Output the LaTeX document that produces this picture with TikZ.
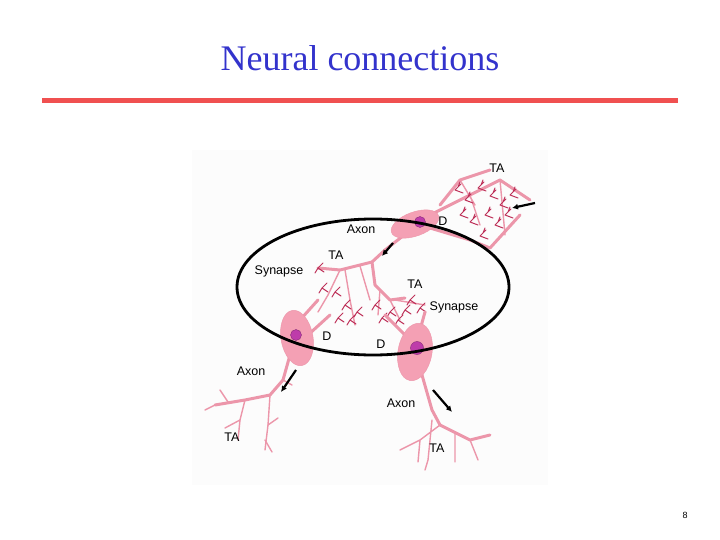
\documentclass[tikz,border=0pt]{standalone}
\usepackage{fontspec}
\setmainfont{Liberation Serif}
\setsansfont{Liberation Sans}
\usetikzlibrary{shapes.geometric,arrows.meta}
\definecolor{ttl}{RGB}{51,51,204}
\definecolor{rline}{RGB}{240,80,80}
\definecolor{cellp}{RGB}{244,160,180}
\definecolor{fibre}{RGB}{236,150,170}
\definecolor{term}{RGB}{190,50,90}
\definecolor{nucl}{RGB}{190,60,170}
\tikzset{
  lbl/.style={font=\sffamily\fontsize{12.5}{14}\selectfont, inner sep=0pt},
  fib/.style={draw=fibre, line width=3pt, line cap=round, line join=round},
  thin fib/.style={draw=fibre, line width=1.4pt, line cap=round},
  twig/.style={draw=term, line width=1pt, line cap=round},
  body/.style={ellipse, fill=cellp, draw=fibre, inner sep=0pt},
  nuc/.style={circle, fill=nucl, draw=nucl!70!black, minimum size=11pt, inner sep=0pt},
  flow/.style={-{Latex[length=6pt,width=6pt]}, line width=2.2pt, black}
}
\begin{document}
\begin{tikzpicture}[x=1pt,y=-1pt]
\useasboundingbox (0,0) rectangle (720,540);
\node[font=\fontsize{36}{40}\selectfont, text=ttl] (title) at (360,58) {Neural connections};
\draw[rline, line width=5pt] (42,101) coordinate (l1) -- (678,101) coordinate (l2);
\fill[white!98!gray] (192,150) rectangle (548,485);
% top neuron dendrites
\draw[fib] (430,215) -- (470,195) -- (500,180) -- (530,200);
\draw[fib] (430,228) -- (470,240) -- (490,248) -- (520,215);
\draw[fib] (440,205) -- (460,180) -- (490,170);
\draw[thin fib] (470,195) -- (480,225) (500,180) -- (505,235) (460,180) -- (475,205);
\foreach \x/\y in {455/190,465/200,478/188,490/196,500/205,485/215,495/225,470/222,510/195,505/215,480/236,460/215}
  \draw[twig] (\x,\y) -- ++(6,-6) (\x,\y) -- ++(8,3) (\x+3,\y-3) -- ++(2,-5);
% top axon
\draw[fib] (408,232) -- (385,250) -- (372,262) -- (340,270) -- (318,268);
\draw[fib] (372,262) -- (375,285) -- (390,300) -- (405,298);
\draw[thin fib] (340,270) -- (328,295) -- (318,312) (345,270) -- (350,300) -- (355,325) (360,266) -- (370,300);
\draw[thin fib] (380,290) -- (378,315) (390,300) -- (400,320) (395,300) -- (425,305);
\foreach \x/\y in {318/268,322/288,335/292,345/305,350/320,357/312,338/318}
  \draw[twig] (\x,\y) -- ++(5,-5) (\x,\y) -- ++(6,4) (\x,\y) -- ++(-3,5);
\foreach \x/\y in {375/305,382/318,390/312,398/320,410/300,420/308,405/310}
  \draw[twig] (\x,\y) -- ++(5,-5) (\x,\y) -- ++(6,4) (\x,\y) -- ++(-3,5);
% left neuron
\draw[fib] (300,320) -- (318,300);
\draw[fib] (308,335) -- (330,315);
\draw[fib] (290,355) -- (283,380) -- (270,395) -- (245,400) -- (215,405);
\draw[thin fib] (270,395) -- (268,425) -- (265,450) (245,400) -- (240,420) -- (238,440) (228,402) -- (220,390) (215,405) -- (205,410) (283,380) -- (292,385);
\draw[thin fib] (268,425) -- (278,418) (240,420) -- (225,428) (265,440) -- (272,452);
% right neuron
\draw[fib] (405,335) -- (385,315);
\draw[fib] (420,330) -- (425,312);
\draw[fib] (420,368) -- (432,410) -- (440,425) -- (470,440) -- (490,435);
\draw[thin fib] (440,425) -- (420,440) -- (400,450) (432,420) -- (428,460) -- (425,470) (470,440) -- (478,460) (455,433) -- (455,462) (420,440) -- (418,462);
% cell bodies
\node[body, minimum width=50pt, minimum height=24pt, rotate=20] (b1) at (415,224) {};
\node[nuc] (n1) at (420,222) {};
\node[body, minimum width=32pt, minimum height=56pt, rotate=10] (b2) at (297,338) {};
\node[nuc] (n2) at (296,335) {};
\node[body, minimum width=34pt, minimum height=58pt, rotate=-10] (b3) at (415,352) {};
\node[nuc, minimum size=13pt] (n3) at (417,348) {};
% arrows
\coordinate (a1s) at (535,203); \coordinate (a1e) at (512,208);
\draw[flow] (a1s) -- (a1e);
\coordinate (a2s) at (393,243); \coordinate (a2e) at (382,256);
\draw[flow] (a2s) -- (a2e);
\coordinate (a3s) at (296,370); \coordinate (a3e) at (281,392);
\draw[flow] (a3s) -- (a3e);
\coordinate (a4s) at (433,390); \coordinate (a4e) at (452,412);
\draw[flow] (a4s) -- (a4e);
% ellipse
\node[ellipse, draw, line width=2.8pt, minimum width=272pt, minimum height=136pt] (oval) at (373,287) {};
% labels
\node[lbl] (t1) at (497,168) {TA};
\node[lbl] (ax1) at (361,229) {Axon};
\node[lbl] (t2) at (336,255) {TA};
\node[lbl] (s1) at (279,271) {Synapse};
\node[lbl] (t3) at (415,284) {TA};
\node[lbl] (s2) at (454,307) {Synapse};
\node[lbl] (d1) at (443,221) {D};
\node[lbl] (d2) at (327,336) {D};
\node[lbl] (d3) at (381,344) {D};
\node[lbl] (ax2) at (251,371) {Axon};
\node[lbl] (ax3) at (401,403) {Axon};
\node[lbl] (t4) at (232,437) {TA};
\node[lbl] (t5) at (437,448) {TA};
\node[font=\sffamily\fontsize{9}{10}\selectfont] (pg) at (685,515) {8};
\end{tikzpicture}
\end{document}
